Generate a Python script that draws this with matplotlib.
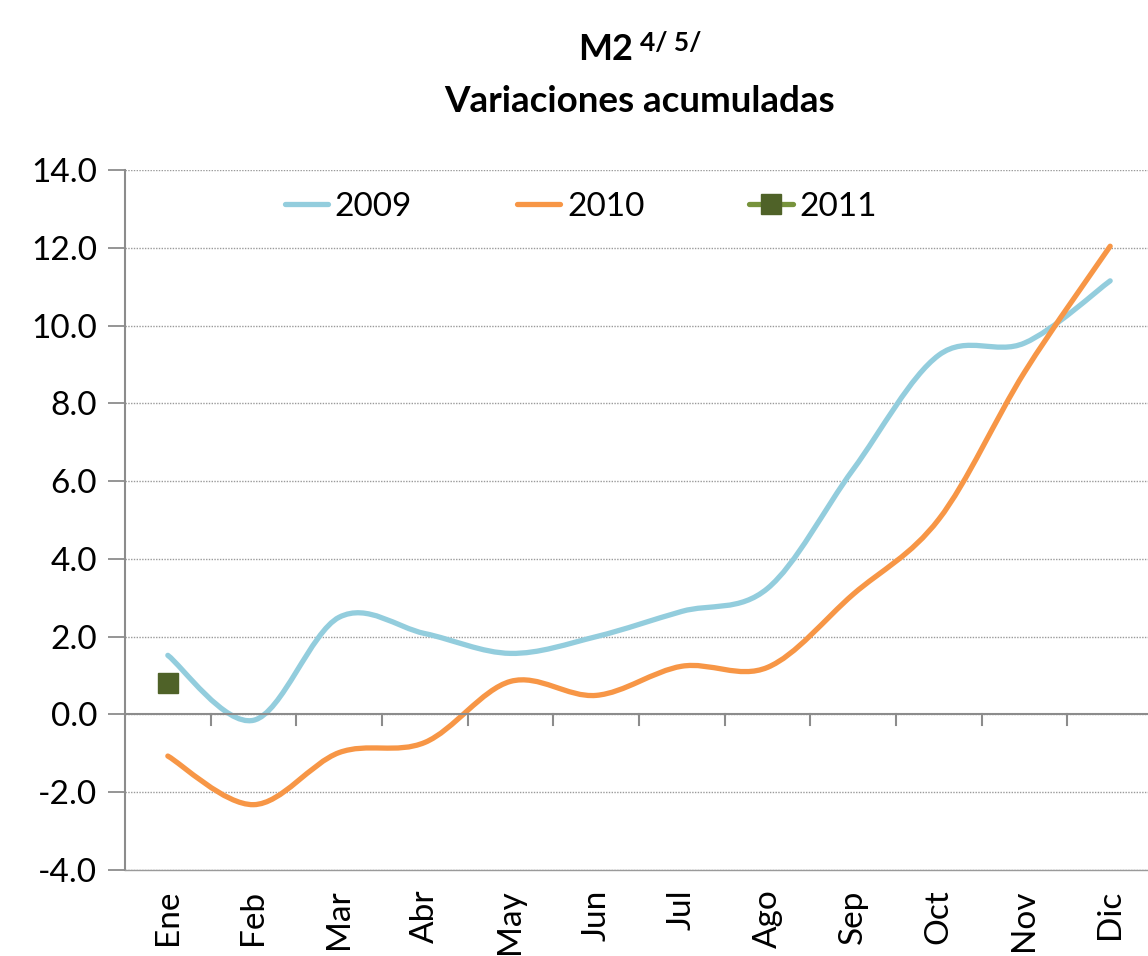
import numpy as np
import matplotlib
matplotlib.use("Agg")
import matplotlib.pyplot as plt
from matplotlib.path import Path
from matplotlib.patches import PathPatch
from matplotlib.lines import Line2D

plt.rcParams['font.family'] = ['Lato', 'DejaVu Sans']

meses = ['Ene', 'Feb', 'Mar', 'Abr', 'May', 'Jun', 'Jul', 'Ago', 'Sep', 'Oct', 'Nov', 'Dic']
v2009 = [1.52, -0.15, 2.5, 2.08, 1.57, 2.0, 2.65, 3.24, 6.3, 9.24, 9.55, 11.15]
v2010 = [-1.07, -2.32, -0.98, -0.72, 0.85, 0.49, 1.24, 1.21, 3.09, 5.02, 8.8, 12.04]
v2011 = [0.8]

c2009 = '#93CDDD'
c2010 = '#F79646'
c2011_line = '#77933C'
c2011_mark = '#4F6228'


def smooth_path(x, y):
    # bezier tipo Excel (catmull-rom)
    pts = np.column_stack([x, y]).astype(float)
    n = len(pts)
    verts = [pts[0]]
    codes = [Path.MOVETO]
    for i in range(n - 1):
        p0 = pts[max(i - 1, 0)]
        p1 = pts[i]
        p2 = pts[i + 1]
        p3 = pts[min(i + 2, n - 1)]
        verts += [p1 + (p2 - p0) / 6.0, p2 - (p3 - p1) / 6.0, p2]
        codes += [Path.CURVE4] * 3
    return Path(verts, codes)


fig = plt.figure(figsize=(11.48, 9.56), dpi=100)
ax = fig.add_axes([125 / 1148, 1 - 870 / 956, 1028 / 1148, 700 / 956])

x = np.arange(len(meses))
for vals, col in [(v2009, c2009), (v2010, c2010)]:
    ax.add_patch(PathPatch(smooth_path(x, vals), facecolor='none',
                           edgecolor=col, lw=3.8, capstyle='round'))
ax.plot(x[:len(v2011)], v2011, color=c2011_line, lw=3.8, marker='s',
        markersize=14, markerfacecolor=c2011_mark, markeredgecolor=c2011_mark)

ax.set_xlim(-0.5, 11.5)
ax.set_ylim(-4, 14)
ax.set_yticks(np.arange(-4, 14.1, 2))
ax.set_yticklabels(['%.1f' % v for v in np.arange(-4, 14.1, 2)], fontsize=24)
ax.yaxis.grid(True, linestyle=(0, (1, 1)), color='#9A9A9A', lw=1.0)
ax.set_axisbelow(True)

# eje x en cero, con marcas entre categorias
ax.axhline(0, color='#8C8C8C', lw=1.5, zorder=1)
for b in np.arange(0.5, 11.5, 1):
    ax.plot([b, b], [0, -0.28], color='#8C8C8C', lw=1.5, zorder=1, clip_on=False)
ax.set_xticks(x)
ax.set_xticklabels(meses, rotation=90, fontsize=24)
ax.tick_params(axis='x', length=0, pad=14)
ax.tick_params(axis='y', length=12, width=1.3, color='#8C8C8C', pad=8)

for s in ['top', 'right']:
    ax.spines[s].set_visible(False)
ax.spines['left'].set_color('#8C8C8C')
ax.spines['left'].set_linewidth(1.5)
ax.spines['bottom'].set_color('#9A9A9A')
ax.spines['bottom'].set_linewidth(1.0)

handles = [Line2D([], [], color=c2009, lw=3.8, solid_capstyle='round'),
           Line2D([], [], color=c2010, lw=3.8, solid_capstyle='round'),
           Line2D([], [], color=c2011_line, lw=3.8, marker='s', markersize=14,
                  markerfacecolor=c2011_mark, markeredgecolor=c2011_mark,
                  solid_capstyle='round')]
ax.legend(handles, ['2009', '2010', '2011'], ncol=3, frameon=False, fontsize=24,
          loc='upper left', bbox_to_anchor=(138 / 1028, 1.0), handlelength=1.3,
          handletextpad=0.2, columnspacing=3.15, borderaxespad=0.25)

fig.text(633 / 1148, 1 - 50 / 956, 'M2', ha='right', va='center',
         fontsize=26, fontweight='bold')
fig.text(640 / 1148, 1 - 43 / 956, '4/ 5/', ha='left', va='center',
         fontsize=19, fontweight='bold')
fig.text(640 / 1148, 1 - 101 / 956, 'Variaciones acumuladas', ha='center',
         va='center', fontsize=26.5, fontweight='bold')

fig.savefig('out.png', dpi=100)
